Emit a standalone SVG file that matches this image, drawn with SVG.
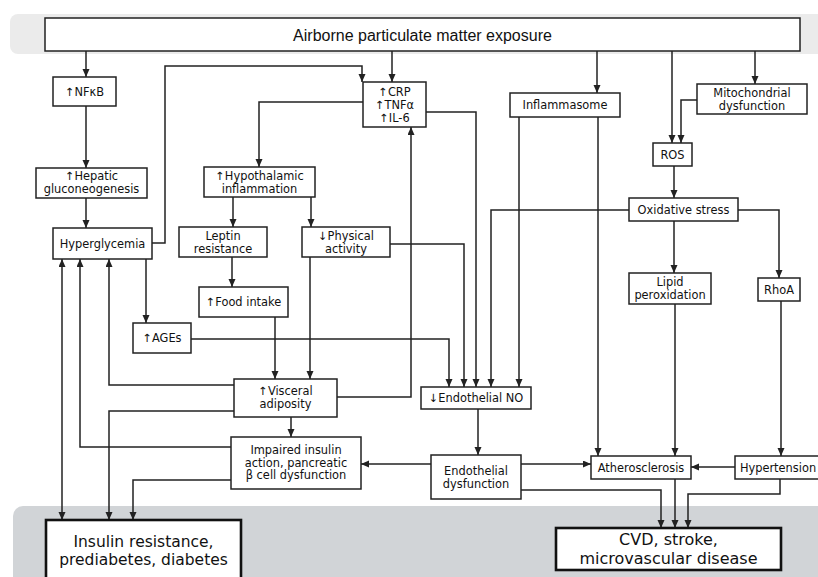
<svg xmlns="http://www.w3.org/2000/svg" width="818" height="577" viewBox="0 0 818 577">
<defs>
<marker id="ah" markerUnits="userSpaceOnUse" markerWidth="9" markerHeight="8" refX="8" refY="3.5" orient="auto-start-reverse">
<path d="M0,0 L8,3.5 L0,7 z" fill="#222"/>
</marker>
</defs>
<style>
.box{fill:#fff;stroke:#222;stroke-width:1.5}
.thick{fill:#fff;stroke:#111;stroke-width:2.6}
.t{font-family:"DejaVu Sans",sans-serif;font-size:11.4px;fill:#111;text-anchor:middle}
.big{font-family:"DejaVu Sans",sans-serif;font-size:16px;fill:#111;text-anchor:middle}
.title{font-family:"Liberation Sans",Arial,sans-serif;font-size:16px;fill:#111;text-anchor:middle}
#connectors path{fill:none;stroke:#222;stroke-width:1.5;marker-end:url(#ah)}
</style>
<rect x="10" y="14" width="820" height="40" rx="8" fill="#ebebeb"/>
<rect x="13" y="506" width="820" height="90" rx="10" fill="#d1d4d7"/>

<g id="connectors">
<path d="M86,51 V77"/>
<path d="M86,106 V168"/>
<path d="M86,198 V228"/>
<path d="M152,243 H165 V66 H362 V82"/>
<path d="M392,51 V82"/>
<path d="M363,102 H259 V167"/>
<path d="M426,112 H476 V387"/>
<path d="M597,51 V93"/>
<path d="M519,117 V387"/>
<path d="M598,117 V456"/>
<path d="M672,51 V143"/>
<path d="M755,51 V84"/>
<path d="M697,100 H681 V143"/>
<path d="M674,166 V198"/>
<path d="M629,210 H491 V387"/>
<path d="M674,221 V273"/>
<path d="M738,210 H779 V278"/>
<path d="M675,304 V456"/>
<path d="M781,301 V456"/>
<path d="M233,197 V227"/>
<path d="M311,197 V227"/>
<path d="M232,257 V287"/>
<path d="M390,244 H464 V387"/>
<path d="M310,257 V379"/>
<path d="M275,317 V379"/>
<path d="M146,259 V323"/>
<path d="M191,339 H449 V387"/>
<path d="M234,385 H109 V259"/>
<path d="M234,411 H109 V520"/>
<path d="M337,397 H411 V127"/>
<path d="M291,417 V437"/>
<path d="M231,447 H80 V259"/>
<path d="M231,480 H133 V520"/>
<path d="M62,259 V520" style="marker-start:url(#ah)"/>
<path d="M478,409 V455"/>
<path d="M431,464 H361"/>
<path d="M521,464 H591"/>
<path d="M521,490 H661 V528"/>
<path d="M675,479 V528"/>
<path d="M735,467 H691"/>
<path d="M780,479 V494 H688 V528"/>
</g>

<g id="exposure"><rect class="box" x="45" y="18" width="755" height="33"/><text class="title" x="422.5" y="41">Airborne particulate matter exposure</text></g>
<g id="nfkb"><rect class="box" x="53" y="77" width="63" height="29"/><text class="t" x="84.5" y="95.5">↑NFκB</text></g>
<g id="hepatic"><rect class="box" x="36" y="168" width="111" height="30"/><text class="t" x="91.5" y="180">↑Hepatic</text><text class="t" x="91.5" y="193">gluconeogenesis</text></g>
<g id="hyperglycemia"><rect class="box" x="53" y="228" width="99" height="31"/><text class="t" x="102.5" y="247.5">Hyperglycemia</text></g>
<g id="crp"><rect class="box" x="363" y="82" width="63" height="45"/><text class="t" x="394.5" y="95.5">↑CRP</text><text class="t" x="394.5" y="108.5">↑TNFα</text><text class="t" x="394.5" y="121.5">↑IL-6</text></g>
<g id="inflammasome"><rect class="box" x="510" y="93" width="110" height="24"/><text class="t" x="565" y="109">Inflammasome</text></g>
<g id="mito"><rect class="box" x="697" y="84" width="110" height="30"/><text class="t" x="752" y="97">Mitochondrial</text><text class="t" x="752" y="110">dysfunction</text></g>
<g id="ros"><rect class="box" x="653" y="143" width="39" height="23"/><text class="t" x="672.5" y="158.5">ROS</text></g>
<g id="oxidative"><rect class="box" x="629" y="198" width="109" height="23"/><text class="t" x="683.5" y="213.5">Oxidative stress</text></g>
<g id="hypothalamic"><rect class="box" x="204" y="167" width="111" height="30"/><text class="t" x="259.5" y="180">↑Hypothalamic</text><text class="t" x="259.5" y="193">inflammation</text></g>
<g id="leptin"><rect class="box" x="179" y="227" width="88" height="30"/><text class="t" x="223" y="240">Leptin</text><text class="t" x="223" y="253">resistance</text></g>
<g id="physical"><rect class="box" x="302" y="227" width="88" height="30"/><text class="t" x="346" y="240">↓Physical</text><text class="t" x="346" y="253">activity</text></g>
<g id="food"><rect class="box" x="199" y="287" width="89" height="30"/><text class="t" x="243.5" y="306">↑Food intake</text></g>
<g id="ages"><rect class="box" x="133" y="323" width="58" height="30"/><text class="t" x="162" y="342">↑AGEs</text></g>
<g id="lipid"><rect class="box" x="629" y="273" width="82" height="31"/><text class="t" x="670" y="286">Lipid</text><text class="t" x="670" y="299">peroxidation</text></g>
<g id="rhoa"><rect class="box" x="758" y="278" width="42" height="23"/><text class="t" x="779" y="293.5">RhoA</text></g>
<g id="visceral"><rect class="box" x="234" y="379" width="103" height="38"/><text class="t" x="285.5" y="395">↑Visceral</text><text class="t" x="285.5" y="408">adiposity</text></g>
<g id="impaired"><rect class="box" x="231" y="437" width="130" height="52"/><text class="t" x="296" y="454">Impaired insulin</text><text class="t" x="296" y="466.5">action, pancreatic</text><text class="t" x="296" y="479">β cell dysfunction</text></g>
<g id="endono"><rect class="box" x="421" y="387" width="110" height="22"/><text class="t" x="476" y="402">↓Endothelial NO</text></g>
<g id="endodys"><rect class="box" x="431" y="455" width="90" height="44"/><text class="t" x="476" y="475">Endothelial</text><text class="t" x="476" y="488">dysfunction</text></g>
<g id="athero"><rect class="box" x="591" y="456" width="100" height="23"/><text class="t" x="641" y="471.5">Atherosclerosis</text></g>
<g id="hypertension"><rect class="box" x="735" y="456" width="90" height="23"/><text class="t" x="778" y="471.5">Hypertension</text></g>
<g id="insulin"><rect class="thick" x="46" y="520" width="195" height="70"/><text class="big" x="143.5" y="547" style="font-size:15.5px">Insulin resistance,</text><text class="big" x="143.5" y="565" style="font-size:15.5px">prediabetes, diabetes</text></g>
<g id="cvd"><rect class="thick" x="556" y="528" width="225" height="42"/><text class="big" x="668.5" y="545">CVD, stroke,</text><text class="big" x="668.5" y="564">microvascular disease</text></g>
</svg>
